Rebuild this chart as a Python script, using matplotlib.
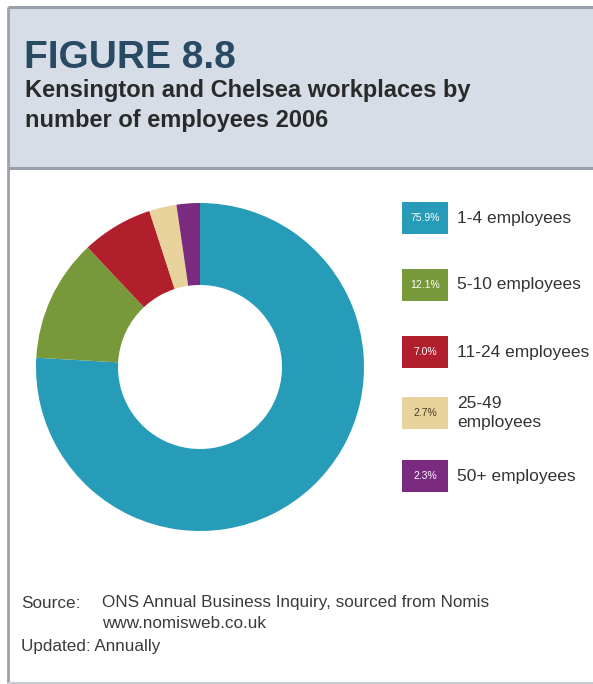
import matplotlib
matplotlib.use("Agg")
import matplotlib.pyplot as plt
from matplotlib.patches import Rectangle

plt.rcParams['font.family'] = ['Liberation Sans', 'DejaVu Sans']

# Workplace size bands and their shares (%)
categories = ["1-4 employees", "5-10 employees", "11-24 employees",
              "25-49\nemployees", "50+ employees"]
shares = [75.9, 12.1, 7.0, 2.7, 2.3]
colors = ["#279cb9", "#77993a", "#b11f2d", "#e8d39c", "#7a2a7f"]
label_colors = ["white", "white", "white", "#4a3a20", "white"]

W, H = 593, 684
fig = plt.figure(figsize=(W / 100, H / 100), dpi=100)
fig.patch.set_facecolor("white")

# Overlay axes in pixel coordinates for frame, header and text
bg = fig.add_axes([0, 0, 1, 1])
bg.set_xlim(0, W)
bg.set_ylim(H, 0)
bg.axis("off")

# Header band
bg.add_patch(Rectangle((8, 7), W, 161, facecolor="#d6dde7", edgecolor="none", zorder=0))
line_c = "#9aa1aa"
bg.plot([8, W], [7, 7], color=line_c, lw=2.2, solid_capstyle="butt")
bg.plot([8, W], [168, 168], color=line_c, lw=2.2, solid_capstyle="butt")
bg.plot([8, 8], [7, 683], color=line_c, lw=2.0, solid_capstyle="butt")
bg.plot([8, W], [683, 683], color="#c8ccd2", lw=1.5, solid_capstyle="butt")

bg.text(24, 58, "FIGURE 8.8", fontsize=28, fontweight="bold", color="#284a63",
        va="center", ha="left")
bg.text(25, 90, "Kensington and Chelsea workplaces by", fontsize=17,
        fontweight="bold", color="#2a2a2a", va="center", ha="left")
bg.text(25, 121, "number of employees 2006", fontsize=17,
        fontweight="bold", color="#2a2a2a", va="center", ha="left")

# Doughnut chart
cx, cy, r = 200, 367, 164
pax = fig.add_axes([(cx - r) / W, 1 - (cy + r) / H, 2 * r / W, 2 * r / H])
pax.pie(shares, colors=colors, startangle=90, counterclock=False, radius=1.0,
        wedgeprops=dict(width=0.5, edgecolor="none"))
pax.set_xlim(-1, 1)
pax.set_ylim(-1, 1)
pax.set_aspect("equal")
pax.axis("off")

# Legend with value boxes
ys = [218, 285, 352, 413, 476]
for cat, v, col, lc, y in zip(categories, shares, colors, label_colors, ys):
    bg.add_patch(Rectangle((402, y - 16), 46, 32, facecolor=col, edgecolor="none"))
    bg.text(425, y, f"{v:.1f}%", fontsize=7.5, color=lc, ha="center", va="center")
    bg.text(457, y, cat, fontsize=12.5, color="#333333", ha="left", va="center",
            linespacing=1.4, clip_on=True)

# Footer notes
foot_c = "#3a3a3a"
fs = 12.3
bg.text(21, 603, "Source:", fontsize=fs, color=foot_c, va="center")
bg.text(102, 603, "ONS Annual Business Inquiry, sourced from Nomis", fontsize=fs,
        color=foot_c, va="center")
bg.text(102, 624, "www.nomisweb.co.uk", fontsize=fs, color=foot_c, va="center")
bg.text(21, 646, "Updated: Annually", fontsize=fs, color=foot_c, va="center")

fig.savefig("out.png", dpi=100, facecolor="white")
